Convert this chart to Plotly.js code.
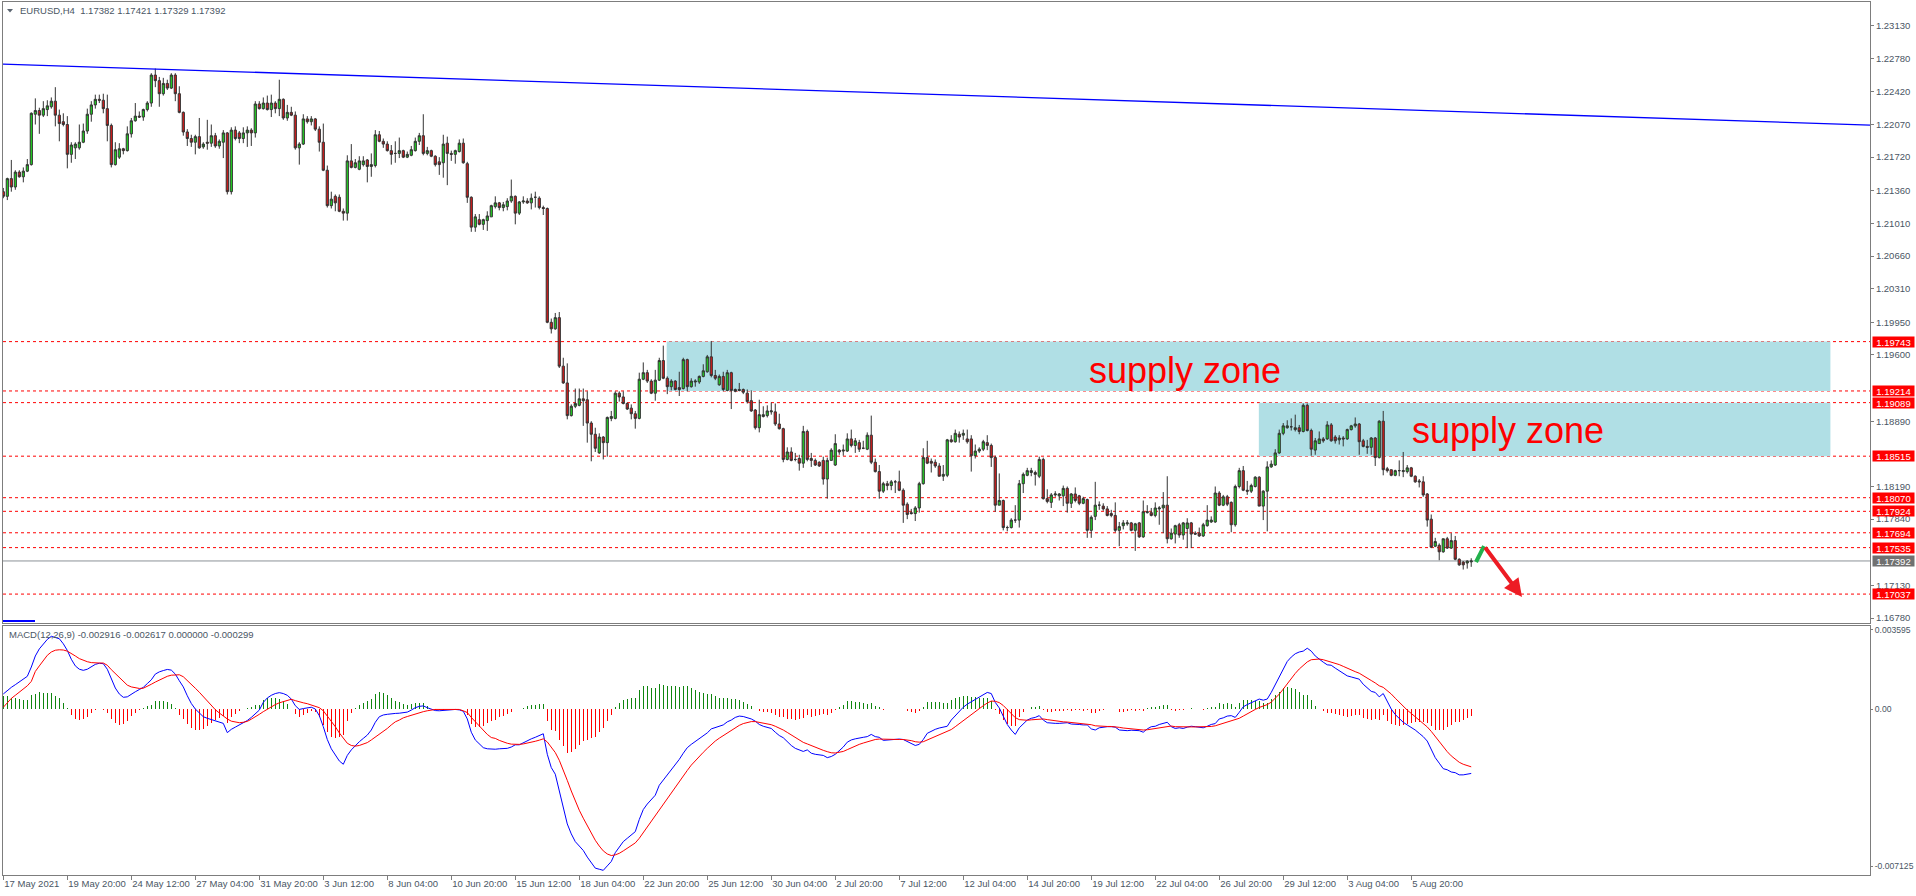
<!DOCTYPE html>
<html><head><meta charset="utf-8">
<script src="https://cdn.plot.ly/plotly-3.0.1.min.js"></script>
<style>html,body{margin:0;padding:0;background:#fff;overflow:hidden}#chart{width:1916px;height:896px}</style>
</head><body><div id="chart"></div>
<script>
// ---------------- data ----------------
const symbolTitle = 'EURUSD,H4';
const lastQuote = ['1.17382', '1.17421', '1.17329', '1.17392'];
const macdTitle = 'MACD(12,26,9)';
const macdHeaderValues = ['-0.002916', '-0.002617', '0.000000', '-0.000299'];

const opens = [
1.2135,1.2130,1.2149,1.2140,1.2156,1.2151,1.2157,1.2164,1.2218,1.2222,
1.2217,1.2223,1.2226,1.2232,1.2217,1.2210,1.2207,1.2175,1.2182,1.2182,
1.2188,1.2200,1.2218,1.2228,1.2234,1.2233,1.2224,1.2206,1.2164,1.2172,
1.2181,1.2179,1.2197,1.2211,1.2216,1.2215,1.2223,1.2230,1.2260,1.2254,
1.2240,1.2251,1.2246,1.2260,1.2240,1.2220,1.2199,1.2192,1.2188,1.2194,
1.2183,1.2188,1.2187,1.2195,1.2184,1.2188,1.2198,1.2135,1.2201,1.2198,
1.2192,1.2198,1.2201,1.2198,1.2229,1.2224,1.2230,1.2223,1.2230,1.2224,
1.2234,1.2214,1.2220,1.2217,1.2182,1.2186,1.2213,1.2210,1.2213,1.2202,
1.2188,1.2158,1.2120,1.2130,1.2129,1.2114,1.2112,1.2168,1.2161,1.2159,
1.2164,1.2169,1.2162,1.2163,1.2196,1.2189,1.2186,1.2179,1.2176,1.2176,
1.2179,1.2172,1.2174,1.2179,1.2189,1.2195,1.2176,1.2179,1.2173,1.2167,
1.2166,1.2187,1.2176,1.2175,1.2178,1.2187,1.2165,1.2129,1.2097,1.2105,
1.2100,1.2104,1.2108,1.2119,1.2123,1.2118,1.2119,1.2125,1.2130,1.2112,
1.2124,1.2125,1.2123,1.2129,1.2128,1.2118,1.2117,1.1995,1.1988,1.2000,
1.1948,1.1930,1.1895,1.1905,1.1906,1.1913,1.1912,1.1887,1.1875,1.1855,
1.1872,1.1866,1.1892,1.1892,1.1919,1.1915,1.1908,1.1903,1.1897,1.1892,
1.1934,1.1941,1.1932,1.1919,1.1933,1.1954,1.1935,1.1926,1.1932,1.1925,
1.1924,1.1955,1.1926,1.1931,1.1931,1.1937,1.1942,1.1958,1.1938,1.1928,
1.1937,1.1922,1.1941,1.1923,1.1923,1.1923,1.1919,1.1911,1.1901,1.1882,
1.1894,1.1895,1.1899,1.1899,1.1886,1.1881,1.1848,1.1856,1.1848,1.1849,
1.1844,1.1878,1.1849,1.1847,1.1845,1.1847,1.1827,1.1847,1.1842,1.1858,
1.1857,1.1857,1.1870,1.1863,1.1866,1.1860,1.1859,1.1874,1.1845,1.1835,
1.1814,1.1822,1.1820,1.1824,1.1824,1.1815,1.1800,1.1791,1.1790,1.1796,
1.1822,1.1850,1.1846,1.1845,1.1841,1.1830,1.1831,1.1869,1.1867,1.1875,
1.1874,1.1870,1.1870,1.1852,1.1857,1.1859,1.1866,1.1863,1.1850,1.1799,
1.1804,1.1775,1.1775,1.1783,1.1783,1.1822,1.1831,1.1834,1.1834,1.1830,
1.1848,1.1806,1.1802,1.1810,1.1809,1.1809,1.1817,1.1801,1.1811,1.1809,
1.1801,1.1805,1.1772,1.1787,1.1799,1.1798,1.1795,1.1790,1.1788,1.1772,
1.1777,1.1779,1.1780,1.1772,1.1780,1.1765,1.1791,1.1791,1.1788,1.1795,
1.1796,1.1799,1.1763,1.1768,1.1778,1.1767,1.1774,1.1780,1.1769,1.1769,
1.1766,1.1777,1.1781,1.1781,1.1812,1.1799,1.1808,1.1802,1.1778,1.1819,
1.1836,1.1815,1.1814,1.1819,1.1829,1.1798,1.1814,1.1840,1.1842,1.1855,
1.1876,1.1882,1.1883,1.1880,1.1882,1.1878,1.1906,1.1879,1.1858,1.1865,
1.1870,1.1870,1.1885,1.1872,1.1869,1.1871,1.1870,1.1880,1.1884,1.1886,
1.1868,1.1862,1.1861,1.1871,1.1850,1.1889,1.1838,1.1837,1.1831,1.1836,
1.1835,1.1835,1.1839,1.1830,1.1825,1.1824,1.1811,1.1784,1.1755,1.1756,
1.1749,1.1763,1.1753,1.1761,1.1741,1.1738,1.1737,1.17382];

const highs = [
1.2139,1.2150,1.2169,1.2158,1.2158,1.2161,1.2170,1.2220,1.2235,1.2225,
1.2232,1.2233,1.2236,1.2247,1.2223,1.2219,1.2216,1.2188,1.2188,1.2207,
1.2208,1.2224,1.2232,1.2239,1.2239,1.2240,1.2239,1.2208,1.2188,1.2187,
1.2182,1.2205,1.2214,1.2230,1.2221,1.2224,1.2232,1.2262,1.2267,1.2258,
1.2257,1.2255,1.2262,1.2262,1.2248,1.2221,1.2202,1.2196,1.2196,1.2214,
1.2188,1.2212,1.2207,1.2198,1.2191,1.2201,1.2199,1.2204,1.2205,1.2200,
1.2204,1.2205,1.2203,1.2232,1.2232,1.2236,1.2238,1.2239,1.2232,1.2255,
1.2235,1.2228,1.2226,1.2221,1.2188,1.2218,1.2216,1.2216,1.2214,1.2205,
1.2208,1.2163,1.2135,1.2132,1.2132,1.2117,1.2174,1.2186,1.2170,1.2173,
1.2173,1.2170,1.2176,1.2201,1.2200,1.2192,1.2189,1.2185,1.2189,1.2193,
1.2180,1.2178,1.2184,1.2193,1.2198,1.2218,1.2183,1.2180,1.2174,1.2172,
1.2196,1.2194,1.2179,1.2180,1.2191,1.2192,1.2167,1.2130,1.2111,1.2111,
1.2106,1.2114,1.2121,1.2130,1.2124,1.2124,1.2128,1.2148,1.2131,1.2125,
1.2130,1.2128,1.2133,1.2135,1.2130,1.2120,1.2118,1.1999,1.2005,1.2006,
1.1957,1.1951,1.1907,1.1924,1.1924,1.1924,1.1921,1.1889,1.1882,1.1876,
1.1873,1.1894,1.1900,1.1921,1.1921,1.1921,1.1909,1.1907,1.1900,1.1941,
1.1952,1.1944,1.1934,1.1944,1.1957,1.1970,1.1937,1.1934,1.1933,1.1942,
1.1957,1.1956,1.1935,1.1934,1.1938,1.1950,1.1960,1.1975,1.1944,1.1939,
1.1942,1.1944,1.1942,1.1924,1.1930,1.1924,1.1923,1.1922,1.1902,1.1912,
1.1905,1.1906,1.1909,1.1908,1.1897,1.1882,1.1861,1.1861,1.1855,1.1853,
1.1884,1.1880,1.1855,1.1849,1.1846,1.1851,1.1850,1.1860,1.1875,1.1859,
1.1864,1.1876,1.1880,1.1871,1.1869,1.1868,1.1877,1.1895,1.1849,1.1842,
1.1824,1.1825,1.1826,1.1826,1.1836,1.1817,1.1802,1.1795,1.1798,1.1824,
1.1860,1.1868,1.1849,1.1848,1.1844,1.1842,1.1870,1.1874,1.1880,1.1878,
1.1880,1.1880,1.1874,1.1864,1.1861,1.1869,1.1874,1.1865,1.1852,1.1833,
1.1805,1.1777,1.1785,1.1799,1.1826,1.1834,1.1839,1.1839,1.1836,1.1851,
1.1850,1.1816,1.1812,1.1814,1.1812,1.1820,1.1819,1.1812,1.1818,1.1810,
1.1808,1.1806,1.1788,1.1824,1.1803,1.1801,1.1798,1.1794,1.1802,1.1781,
1.1783,1.1783,1.1781,1.1780,1.1781,1.1804,1.1799,1.1796,1.1802,1.1798,
1.1813,1.1830,1.1774,1.1778,1.1780,1.1781,1.1785,1.1781,1.1771,1.1775,
1.1780,1.1799,1.1787,1.1819,1.1814,1.1810,1.1810,1.1803,1.1821,1.1839,
1.1841,1.1825,1.1822,1.1830,1.1830,1.1815,1.1846,1.1847,1.1859,1.1880,
1.1887,1.1890,1.1892,1.1896,1.1885,1.1908,1.1908,1.1881,1.1871,1.1878,
1.1872,1.1889,1.1887,1.1874,1.1874,1.1873,1.1881,1.1885,1.1893,1.1887,
1.1870,1.1869,1.1872,1.1872,1.1890,1.1900,1.1840,1.1837,1.1837,1.1847,
1.1856,1.1842,1.1840,1.1831,1.1827,1.1830,1.1812,1.1789,1.1764,1.1758,
1.1763,1.1765,1.1769,1.1766,1.1742,1.1739,1.1740,1.17421];

const lows = [
1.2128,1.2126,1.2135,1.2137,1.2150,1.2145,1.2156,1.2163,1.2207,1.2197,
1.2215,1.2216,1.2224,1.2205,1.2189,1.2205,1.2160,1.2166,1.2170,1.2180,
1.2187,1.2197,1.2210,1.2224,1.2230,1.2219,1.2189,1.2161,1.2163,1.2170,
1.2175,1.2178,1.2193,1.2210,1.2214,1.2211,1.2221,1.2226,1.2247,1.2226,
1.2238,1.2244,1.2245,1.2232,1.2219,1.2195,1.2184,1.2183,1.2175,1.2181,
1.2181,1.2180,1.2183,1.2182,1.2181,1.2171,1.2132,1.2132,1.2190,1.2187,
1.2187,1.2183,1.2184,1.2193,1.2223,1.2223,1.2222,1.2215,1.2219,1.2216,
1.2212,1.2211,1.2216,1.2180,1.2164,1.2185,1.2208,1.2206,1.2200,1.2178,
1.2157,1.2118,1.2117,1.2114,1.2113,1.2104,1.2104,1.2160,1.2160,1.2158,
1.2162,1.2145,1.2151,1.2161,1.2188,1.2182,1.2178,1.2164,1.2166,1.2171,
1.2171,1.2171,1.2173,1.2178,1.2185,1.2174,1.2174,1.2172,1.2162,1.2153,
1.2150,1.2142,1.2168,1.2165,1.2177,1.2165,1.2123,1.2092,1.2092,1.2099,
1.2094,1.2093,1.2108,1.2117,1.2115,1.2114,1.2115,1.2123,1.2100,1.2110,
1.2122,1.2122,1.2116,1.2118,1.2116,1.2110,1.1994,1.1983,1.1987,1.1946,
1.1929,1.1891,1.1894,1.1903,1.1905,1.1884,1.1866,1.1846,1.1856,1.1854,
1.1848,1.1851,1.1889,1.1891,1.1910,1.1907,1.1901,1.1891,1.1881,1.1891,
1.1933,1.1930,1.1918,1.1911,1.1932,1.1934,1.1918,1.1922,1.1922,1.1916,
1.1923,1.1921,1.1925,1.1926,1.1929,1.1936,1.1941,1.1936,1.1933,1.1927,
1.1921,1.1921,1.1902,1.1920,1.1921,1.1918,1.1908,1.1899,1.1880,1.1877,
1.1893,1.1893,1.1896,1.1884,1.1880,1.1845,1.1847,1.1846,1.1846,1.1836,
1.1839,1.1846,1.1840,1.1841,1.1840,1.1821,1.1806,1.1847,1.1841,1.1853,
1.1852,1.1856,1.1861,1.1855,1.1856,1.1859,1.1858,1.1843,1.1834,1.1806,
1.1812,1.1815,1.1815,1.1812,1.1814,1.1780,1.1784,1.1789,1.1782,1.1791,
1.1821,1.1843,1.1834,1.1839,1.1830,1.1825,1.1829,1.1866,1.1866,1.1866,
1.1869,1.1865,1.1835,1.1849,1.1855,1.1857,1.1858,1.1840,1.1792,1.1799,
1.1772,1.1771,1.1774,1.1780,1.1775,1.1812,1.1830,1.1830,1.1820,1.1828,
1.1805,1.1801,1.1796,1.1808,1.1804,1.1798,1.1791,1.1796,1.1802,1.1799,
1.1800,1.1764,1.1764,1.1783,1.1794,1.1793,1.1787,1.1786,1.1770,1.1755,
1.1773,1.1777,1.1771,1.1750,1.1764,1.1764,1.1790,1.1787,1.1786,1.1778,
1.1769,1.1758,1.1762,1.1758,1.1764,1.1762,1.1753,1.1753,1.1767,1.1765,
1.1765,1.1776,1.1780,1.1780,1.1798,1.1798,1.1798,1.1770,1.1776,1.1817,
1.1814,1.1810,1.1812,1.1818,1.1798,1.1783,1.1771,1.1839,1.1841,1.1854,
1.1874,1.1881,1.1879,1.1878,1.1875,1.1877,1.1878,1.1852,1.1853,1.1865,
1.1866,1.1869,1.1867,1.1865,1.1864,1.1862,1.1869,1.1879,1.1882,1.1853,
1.1861,1.1854,1.1853,1.1841,1.1849,1.1831,1.1834,1.1830,1.1830,1.1830,
1.1829,1.1833,1.1829,1.1823,1.1818,1.1808,1.1776,1.1753,1.1754,1.1740,
1.1748,1.1752,1.1752,1.1740,1.1734,1.1730,1.1731,1.17329];

const closes = [
1.2130,1.2149,1.2140,1.2156,1.2151,1.2157,1.2164,1.2219,1.2222,1.2217,
1.2224,1.2227,1.2232,1.2217,1.2208,1.2207,1.2175,1.2185,1.2186,1.2188,
1.2200,1.2218,1.2228,1.2234,1.2233,1.2224,1.2206,1.2164,1.2180,1.2181,
1.2179,1.2197,1.2211,1.2216,1.2215,1.2223,1.2230,1.2260,1.2254,1.2240,
1.2251,1.2246,1.2260,1.2240,1.2220,1.2199,1.2192,1.2188,1.2194,1.2182,
1.2186,1.2187,1.2195,1.2184,1.2189,1.2198,1.2135,1.2201,1.2192,1.2192,
1.2198,1.2201,1.2198,1.2229,1.2224,1.2230,1.2223,1.2230,1.2224,1.2234,
1.2214,1.2220,1.2217,1.2182,1.2186,1.2213,1.2210,1.2213,1.2202,1.2188,
1.2158,1.2120,1.2127,1.2123,1.2114,1.2112,1.2168,1.2161,1.2166,1.2168,
1.2168,1.2162,1.2164,1.2196,1.2189,1.2186,1.2179,1.2175,1.2176,1.2179,
1.2172,1.2175,1.2180,1.2189,1.2195,1.2176,1.2179,1.2173,1.2164,1.2164,
1.2186,1.2176,1.2175,1.2179,1.2187,1.2166,1.2129,1.2097,1.2108,1.2100,
1.2105,1.2109,1.2120,1.2123,1.2118,1.2121,1.2125,1.2130,1.2112,1.2124,
1.2125,1.2123,1.2128,1.2129,1.2118,1.2117,1.1995,1.1988,1.2000,1.1948,
1.1930,1.1895,1.1905,1.1908,1.1913,1.1911,1.1887,1.1875,1.1860,1.1872,
1.1866,1.1893,1.1894,1.1919,1.1915,1.1908,1.1902,1.1897,1.1892,1.1934,
1.1941,1.1932,1.1919,1.1933,1.1954,1.1935,1.1926,1.1932,1.1923,1.1923,
1.1955,1.1926,1.1932,1.1932,1.1937,1.1943,1.1958,1.1938,1.1935,1.1937,
1.1923,1.1941,1.1922,1.1921,1.1922,1.1920,1.1910,1.1900,1.1882,1.1896,
1.1896,1.1900,1.1900,1.1886,1.1881,1.1848,1.1856,1.1847,1.1848,1.1844,
1.1878,1.1848,1.1847,1.1842,1.1841,1.1827,1.1847,1.1858,1.1865,1.1856,
1.1858,1.1870,1.1863,1.1868,1.1859,1.1860,1.1874,1.1845,1.1835,1.1814,
1.1822,1.1820,1.1824,1.1824,1.1815,1.1799,1.1789,1.1790,1.1796,1.1822,
1.1850,1.1844,1.1844,1.1841,1.1830,1.1832,1.1869,1.1867,1.1876,1.1872,
1.1876,1.1867,1.1852,1.1857,1.1859,1.1867,1.1863,1.1850,1.1799,1.1804,
1.1775,1.1775,1.1783,1.1783,1.1822,1.1832,1.1836,1.1836,1.1832,1.1848,
1.1806,1.1803,1.1810,1.1811,1.1811,1.1817,1.1801,1.1811,1.1804,1.1801,
1.1806,1.1772,1.1786,1.1799,1.1799,1.1795,1.1788,1.1788,1.1772,1.1776,
1.1780,1.1780,1.1772,1.1779,1.1765,1.1792,1.1792,1.1788,1.1796,1.1796,
1.1799,1.1763,1.1769,1.1777,1.1767,1.1780,1.1780,1.1768,1.1768,1.1766,
1.1778,1.1783,1.1783,1.1812,1.1799,1.1808,1.1800,1.1778,1.1819,1.1836,
1.1815,1.1814,1.1820,1.1829,1.1798,1.1814,1.1840,1.1843,1.1855,1.1876,
1.1884,1.1884,1.1883,1.1882,1.1878,1.1906,1.1879,1.1859,1.1868,1.1870,
1.1868,1.1885,1.1868,1.1868,1.1871,1.1870,1.1880,1.1884,1.1886,1.1867,
1.1862,1.1861,1.1871,1.1850,1.1889,1.1837,1.1836,1.1831,1.1836,1.1836,
1.1836,1.1839,1.1830,1.1824,1.1824,1.1810,1.1783,1.1754,1.1760,1.1749,
1.1763,1.1753,1.1761,1.1741,1.1735,1.1735,1.1739,1.17392];

// MACD main line (blue) and signal line (red), one value per bar
const macdMain = [
0.00068,0.00085,0.00098,0.00110,0.00122,0.00133,0.00148,0.00190,0.00240,0.00272,
0.00295,0.00315,0.00329,0.00325,0.00318,0.00295,0.00265,0.00225,0.00195,0.00180,
0.00175,0.00180,0.00192,0.00202,0.00207,0.00205,0.00180,0.00135,0.00095,0.00068,
0.00053,0.00055,0.00068,0.00078,0.00088,0.00098,0.00115,0.00132,0.00158,0.00168,
0.00174,0.00179,0.00176,0.00158,0.00128,0.00100,0.00060,0.00025,0.00000,-0.00020,
-0.00035,-0.00042,-0.00048,-0.00053,-0.00057,-0.00065,-0.00107,-0.00092,-0.00082,-0.00073,
-0.00062,-0.00052,-0.00038,-0.00020,-0.00005,0.00030,0.00050,0.00062,0.00070,0.00074,
0.00070,0.00062,0.00045,0.00015,-0.00002,0.00002,0.00005,0.00008,0.00000,-0.00030,
-0.00080,-0.00138,-0.00180,-0.00210,-0.00235,-0.00250,-0.00210,-0.00185,-0.00165,-0.00148,
-0.00133,-0.00118,-0.00095,-0.00060,-0.00035,-0.00027,-0.00024,-0.00021,-0.00020,-0.00019,
-0.00018,-0.00014,-0.00005,0.00006,0.00012,0.00014,0.00006,-0.00002,-0.00007,-0.00008,
-0.00006,-0.00004,-0.00003,-0.00002,-0.00004,-0.00010,-0.00045,-0.00105,-0.00140,-0.00160,
-0.00175,-0.00180,-0.00182,-0.00182,-0.00180,-0.00180,-0.00178,-0.00172,-0.00162,-0.00162,
-0.00152,-0.00142,-0.00135,-0.00128,-0.00120,-0.00112,-0.00205,-0.00265,-0.00295,-0.00370,
-0.00440,-0.00520,-0.00565,-0.00600,-0.00620,-0.00640,-0.00670,-0.00695,-0.00720,-0.00725,
-0.00730,-0.00710,-0.00690,-0.00650,-0.00625,-0.00600,-0.00585,-0.00570,-0.00555,-0.00500,
-0.00455,-0.00430,-0.00412,-0.00390,-0.00345,-0.00322,-0.00300,-0.00275,-0.00250,-0.00228,
-0.00200,-0.00175,-0.00160,-0.00148,-0.00136,-0.00124,-0.00108,-0.00090,-0.00085,-0.00080,
-0.00072,-0.00058,-0.00050,-0.00038,-0.00032,-0.00034,-0.00038,-0.00045,-0.00055,-0.00070,
-0.00078,-0.00082,-0.00088,-0.00105,-0.00120,-0.00130,-0.00150,-0.00165,-0.00178,-0.00185,
-0.00192,-0.00185,-0.00200,-0.00205,-0.00208,-0.00210,-0.00220,-0.00215,-0.00205,-0.00190,
-0.00172,-0.00150,-0.00140,-0.00135,-0.00130,-0.00128,-0.00125,-0.00115,-0.00125,-0.00128,
-0.00142,-0.00140,-0.00140,-0.00138,-0.00136,-0.00138,-0.00148,-0.00158,-0.00165,-0.00160,
-0.00138,-0.00110,-0.00100,-0.00092,-0.00086,-0.00082,-0.00078,-0.00050,-0.00030,-0.00010,
0.00008,0.00022,0.00032,0.00045,0.00055,0.00065,0.00075,0.00070,0.00030,0.00005,
-0.00035,-0.00070,-0.00095,-0.00115,-0.00085,-0.00065,-0.00050,-0.00042,-0.00038,-0.00030,
-0.00050,-0.00062,-0.00065,-0.00065,-0.00065,-0.00065,-0.00062,-0.00068,-0.00068,-0.00070,
-0.00072,-0.00072,-0.00090,-0.00095,-0.00085,-0.00082,-0.00080,-0.00080,-0.00082,-0.00095,
-0.00098,-0.00098,-0.00096,-0.00098,-0.00098,-0.00105,-0.00090,-0.00080,-0.00078,-0.00070,
-0.00065,-0.00060,-0.00080,-0.00088,-0.00085,-0.00088,-0.00082,-0.00078,-0.00080,-0.00082,
-0.00085,-0.00078,-0.00070,-0.00066,-0.00045,-0.00040,-0.00032,-0.00030,-0.00038,-0.00015,
0.00010,0.00020,0.00028,0.00035,0.00045,0.00040,0.00045,0.00075,0.00110,0.00145,
0.00185,0.00215,0.00235,0.00250,0.00258,0.00262,0.00275,0.00262,0.00240,0.00225,
0.00212,0.00200,0.00198,0.00185,0.00172,0.00160,0.00150,0.00145,0.00140,0.00135,
0.00112,0.00095,0.00080,0.00075,0.00055,0.00070,0.00032,0.00000,-0.00025,-0.00045,
-0.00060,-0.00072,-0.00082,-0.00095,-0.00110,-0.00125,-0.00145,-0.00180,-0.00220,-0.00245,
-0.00270,-0.00275,-0.00285,-0.00288,-0.00298,-0.00298,-0.00295,-0.002916];

const macdSignal = [
0.00008,0.00028,0.00048,0.00062,0.00076,0.00090,0.00105,0.00125,0.00170,0.00195,
0.00222,0.00243,0.00258,0.00266,0.00268,0.00267,0.00262,0.00252,0.00240,0.00228,
0.00220,0.00214,0.00210,0.00208,0.00208,0.00208,0.00198,0.00178,0.00160,0.00142,
0.00122,0.00108,0.00100,0.00095,0.00093,0.00094,0.00102,0.00112,0.00122,0.00131,
0.00140,0.00148,0.00153,0.00155,0.00155,0.00146,0.00130,0.00112,0.00094,0.00076,
0.00055,0.00035,0.00015,-0.00003,-0.00018,-0.00032,-0.00045,-0.00055,-0.00060,-0.00062,
-0.00060,-0.00056,-0.00046,-0.00036,-0.00024,-0.00012,0.00000,0.00010,0.00020,0.00028,
0.00033,0.00040,0.00044,0.00038,0.00032,0.00028,0.00024,0.00018,0.00014,0.00006,
-0.00008,-0.00032,-0.00052,-0.00080,-0.00108,-0.00133,-0.00155,-0.00165,-0.00168,-0.00165,
-0.00160,-0.00152,-0.00140,-0.00128,-0.00112,-0.00100,-0.00088,-0.00072,-0.00058,-0.00050,
-0.00040,-0.00034,-0.00028,-0.00022,-0.00017,-0.00012,-0.00008,-0.00004,-0.00002,-0.00002,
-0.00002,-0.00002,-0.00002,-0.00002,-0.00002,-0.00008,-0.00016,-0.00038,-0.00058,-0.00080,
-0.00096,-0.00115,-0.00129,-0.00133,-0.00142,-0.00150,-0.00155,-0.00159,-0.00160,-0.00160,
-0.00158,-0.00155,-0.00151,-0.00146,-0.00141,-0.00135,-0.00149,-0.00172,-0.00197,-0.00232,
-0.00274,-0.00323,-0.00371,-0.00417,-0.00458,-0.00494,-0.00529,-0.00562,-0.00594,-0.00620,
-0.00642,-0.00656,-0.00663,-0.00660,-0.00653,-0.00642,-0.00631,-0.00619,-0.00606,-0.00585,
-0.00559,-0.00533,-0.00509,-0.00485,-0.00457,-0.00430,-0.00404,-0.00378,-0.00352,-0.00327,
-0.00304,-0.00278,-0.00254,-0.00233,-0.00214,-0.00196,-0.00178,-0.00160,-0.00145,-0.00132,
-0.00120,-0.00108,-0.00096,-0.00085,-0.00074,-0.00066,-0.00060,-0.00057,-0.00057,-0.00060,
-0.00063,-0.00067,-0.00071,-0.00078,-0.00086,-0.00095,-0.00106,-0.00118,-0.00130,-0.00141,
-0.00151,-0.00158,-0.00166,-0.00174,-0.00181,-0.00187,-0.00193,-0.00198,-0.00199,-0.00197,
-0.00192,-0.00184,-0.00175,-0.00167,-0.00160,-0.00154,-0.00148,-0.00141,-0.00138,-0.00136,
-0.00137,-0.00138,-0.00138,-0.00138,-0.00138,-0.00138,-0.00140,-0.00143,-0.00148,-0.00150,
-0.00148,-0.00140,-0.00132,-0.00124,-0.00117,-0.00110,-0.00103,-0.00093,-0.00080,-0.00066,
-0.00051,-0.00037,-0.00023,-0.00010,0.00003,0.00015,0.00027,0.00036,0.00035,0.00029,
0.00016,-0.00001,-0.00020,-0.00039,-0.00048,-0.00051,-0.00051,-0.00049,-0.00047,-0.00044,
-0.00045,-0.00048,-0.00051,-0.00054,-0.00056,-0.00058,-0.00059,-0.00061,-0.00062,-0.00064,
-0.00065,-0.00066,-0.00071,-0.00076,-0.00078,-0.00078,-0.00079,-0.00079,-0.00080,-0.00083,
-0.00086,-0.00088,-0.00090,-0.00091,-0.00093,-0.00095,-0.00094,-0.00091,-0.00089,-0.00085,
-0.00081,-0.00077,-0.00077,-0.00080,-0.00081,-0.00082,-0.00082,-0.00081,-0.00081,-0.00081,
-0.00082,-0.00081,-0.00079,-0.00076,-0.00070,-0.00064,-0.00058,-0.00052,-0.00049,-0.00042,
-0.00032,-0.00021,-0.00011,-0.00002,0.00007,0.00014,0.00020,0.00031,0.00047,0.00067,
0.00090,0.00115,0.00139,0.00161,0.00181,0.00197,0.00213,0.00223,0.00226,0.00226,
0.00223,0.00218,0.00214,0.00208,0.00201,0.00193,0.00184,0.00176,0.00169,0.00162,
0.00152,0.00141,0.00129,0.00118,0.00105,0.00098,0.00085,0.00068,0.00049,0.00030,
0.00012,-0.00005,-0.00020,-0.00035,-0.00050,-0.00065,-0.00081,-0.00101,-0.00125,-0.00149,
-0.00173,-0.00193,-0.00212,-0.00227,-0.00241,-0.00250,-0.00256,-0.002617];

const timeTickBars = [0,16,32,48,64,80,96,112,128,144,160,176,192,208,224,240,256,272,288,304,320,336,352];
const timeTickLabels = ['17 May 2021','19 May 20:00','24 May 12:00','27 May 04:00','31 May 20:00','3 Jun 12:00',
  '8 Jun 04:00','10 Jun 20:00','15 Jun 12:00','18 Jun 04:00','22 Jun 20:00','25 Jun 12:00','30 Jun 04:00',
  '2 Jul 20:00','7 Jul 12:00','12 Jul 04:00','14 Jul 20:00','19 Jul 12:00','22 Jul 04:00','26 Jul 20:00',
  '29 Jul 12:00','3 Aug 04:00','5 Aug 20:00'];
const priceTicks = [1.23130,1.22780,1.22420,1.22070,1.21720,1.21360,1.21010,1.20660,1.20310,1.19950,
  1.19600,1.18890,1.18190,1.17840,1.17130,1.16780];
const levelPrices = [1.19743,1.19214,1.19089,1.18515,1.18070,1.17924,1.17694,1.17535,1.17037];
const bidPrice = 1.17392;
const macdTicks = [0.003595, 0, -0.007125];
const macdTickLabels = ['0.003595', '0.00', '-0.007125'];

// drawn objects (anchored in bar index / price)
const trendLine = {bar0: -0.1, price0: 1.22718, bar1: 466.7, price1: 1.22064};
const zones = [
  {bar0: 165.85, bar1: 456.8, low: 1.19214, high: 1.19743, label: 'supply zone', labelBar: 270.9, labelPrice: 1.19438},
  {bar0: 313.9, bar1: 456.8, low: 1.18515, high: 1.19089, label: 'supply zone', labelBar: 351.7, labelPrice: 1.18788}
];
const upLeg = {bar0: 368.2, price0: 1.17381, bar1: 370.2, price1: 1.17552};
const downArrow = {bar0: 370.2, price0: 1.17552, bar1: 379.7, price1: 1.17005};

// ---------------- layout geometry ----------------
const W = 1916, H = 896;
const M = {l: 3, r: 46, t: 2, b: 21};
const PW = W - M.l - M.r, PH = H - M.t - M.b;
const px2x = px => (px - M.l) / PW;
const px2y = py => (H - M.b - py) / PH;
const FONT = 'Liberation Sans, Arial, sans-serif';
const TXT = '#4a5664';
const AX = '#7d7d7d';
const xRange = [-0.08, 466.7];

const idx = closes.map((_, i) => i);
const hist = macdMain.map((v, i) => v - macdSignal[i]);

const traces = [
  {type: 'candlestick', x: idx, open: opens, high: highs, low: lows, close: closes,
   xaxis: 'x2', yaxis: 'y', whiskerwidth: 0, hoverinfo: 'skip',
   increasing: {line: {color: '#333333', width: 1}, fillcolor: '#22d322'},
   decreasing: {line: {color: '#333333', width: 1}, fillcolor: '#d41b1b'}},
  {type: 'bar', x: idx, y: hist, xaxis: 'x', yaxis: 'y2', width: 0.25, hoverinfo: 'skip',
   marker: {color: hist.map(v => v >= 0 ? '#0f860f' : '#ff0000'), line: {width: 0}}},
  {type: 'scatter', mode: 'lines', x: idx, y: macdMain, xaxis: 'x', yaxis: 'y2', hoverinfo: 'skip',
   line: {color: '#0000ff', width: 1}},
  {type: 'scatter', mode: 'lines', x: idx, y: macdSignal, xaxis: 'x', yaxis: 'y2', hoverinfo: 'skip',
   line: {color: '#ff0000', width: 1}}
];

const shapes = [];
zones.forEach(z => shapes.push({type: 'rect', xref: 'x2', yref: 'y', x0: z.bar0, x1: z.bar1, y0: z.low, y1: z.high,
  fillcolor: '#b0dfe5', line: {width: 0}, layer: 'below'}));
levelPrices.forEach(p => shapes.push({type: 'line', xref: 'paper', yref: 'y', x0: 0, x1: 1, y0: p, y1: p,
  line: {color: '#ff0000', width: 1, dash: '3px,3px'}, layer: 'below'}));
shapes.push({type: 'line', xref: 'paper', yref: 'y', x0: 0, x1: 1, y0: bidPrice, y1: bidPrice,
  line: {color: '#8c9197', width: 1}, layer: 'below'});
shapes.push({type: 'line', xref: 'x2', yref: 'y', x0: trendLine.bar0, y0: trendLine.price0, x1: trendLine.bar1, y1: trendLine.price1,
  line: {color: '#0000ff', width: 1.3}});
shapes.push({type: 'line', xref: 'x2', yref: 'y', x0: upLeg.bar0, y0: upLeg.price0, x1: upLeg.bar1, y1: upLeg.price1,
  line: {color: '#22b14c', width: 4}});
// small blue stub at the bottom-left of the price window
shapes.push({type: 'line', xref: 'paper', yref: 'paper', x0: 0, x1: px2x(35), y0: px2y(621), y1: px2y(621),
  line: {color: '#0000ff', width: 2}});
// header triangle
shapes.push({type: 'path', xref: 'paper', yref: 'paper',
  path: `M ${px2x(7)} ${px2y(9)} L ${px2x(13)} ${px2y(9)} L ${px2x(10)} ${px2y(12.5)} Z`,
  fillcolor: '#5a6470', line: {width: 0}});

const annotations = [];
zones.forEach(z => annotations.push({xref: 'x2', yref: 'y', x: z.labelBar, y: z.labelPrice, xanchor: 'left', yanchor: 'middle',
  text: z.label, showarrow: false, font: {family: FONT, size: 36, color: '#ff0000'}}));
annotations.push({xref: 'x2', yref: 'y', x: downArrow.bar1, y: downArrow.price1, axref: 'x2', ayref: 'y',
  ax: downArrow.bar0, ay: downArrow.price0, text: '', showarrow: true, arrowhead: 2, arrowsize: 0.9,
  arrowwidth: 4, arrowcolor: '#ed1c24', standoff: 0, startstandoff: 0});
levelPrices.forEach(p => annotations.push({xref: 'paper', yref: 'y', x: px2x(1872), y: p, xanchor: 'left', yanchor: 'middle',
  text: p.toFixed(5), showarrow: false, bgcolor: '#ff0000', borderpad: 0, width: 41, height: 10, align: 'center',
  font: {family: FONT, size: 9.5, color: '#ffffff'}}));
annotations.push({xref: 'paper', yref: 'y', x: px2x(1872), y: bidPrice, xanchor: 'left', yanchor: 'middle',
  text: bidPrice.toFixed(5), showarrow: false, bgcolor: '#707070', borderpad: 0, width: 41, height: 10, align: 'center',
  font: {family: FONT, size: 9.5, color: '#ffffff'}});
annotations.push({xref: 'paper', yref: 'paper', x: px2x(18), y: px2y(10.5), xanchor: 'left', yanchor: 'middle',
  text: symbolTitle + '\u00a0\u00a0' + lastQuote.join(' '), showarrow: false, font: {family: FONT, size: 9.5, color: TXT}});
annotations.push({xref: 'paper', yref: 'paper', x: px2x(7), y: px2y(634), xanchor: 'left', yanchor: 'middle',
  text: macdTitle + ' ' + macdHeaderValues.join(' '), showarrow: false, font: {family: FONT, size: 9.5, color: TXT}});

const tickFont = {family: FONT, size: 9.5, color: TXT};
const layout = {
  width: W, height: H, margin: M, paper_bgcolor: '#ffffff', plot_bgcolor: '#ffffff',
  showlegend: false, boxgap: 0.45, boxgroupgap: 0, bargap: 0,
  xaxis: {domain: [0, 1], anchor: 'y2', range: xRange, showgrid: false, zeroline: false,
    showline: true, mirror: true, linecolor: AX, linewidth: 1,
    ticks: 'outside', ticklen: 4, tickcolor: AX, tickvals: timeTickBars, ticktext: timeTickLabels,
    tickfont: tickFont, tickangle: 0, ticklabelposition: 'outside right', rangeslider: {visible: false}},
  xaxis2: {domain: [0, 1], anchor: 'y', matches: 'x', range: xRange, showgrid: false, zeroline: false,
    showline: true, mirror: true, linecolor: AX, linewidth: 1, showticklabels: false, ticks: '',
    rangeslider: {visible: false}},
  yaxis: {domain: [(875 - 623) / PH, 1], anchor: 'x2', side: 'right', range: [1.16727, 1.23383],
    showgrid: false, zeroline: false, showline: true, mirror: true, linecolor: AX, linewidth: 1,
    ticks: 'outside', ticklen: 3, tickcolor: AX, tickvals: priceTicks, tickformat: '.5f', tickfont: tickFont},
  yaxis2: {domain: [0, (875 - 626) / PH], anchor: 'x', side: 'right', range: [-0.007511, 0.003756],
    showgrid: false, zeroline: false, showline: true, mirror: true, linecolor: AX, linewidth: 1,
    ticks: 'outside', ticklen: 2, tickcolor: AX, tickvals: macdTicks, ticktext: macdTickLabels,
    tickfont: {family: FONT, size: 8.6, color: TXT}},
  shapes: shapes, annotations: annotations
};

Plotly.newPlot('chart', traces, layout, {staticPlot: true, displayModeBar: false});
</script>
</body></html>
